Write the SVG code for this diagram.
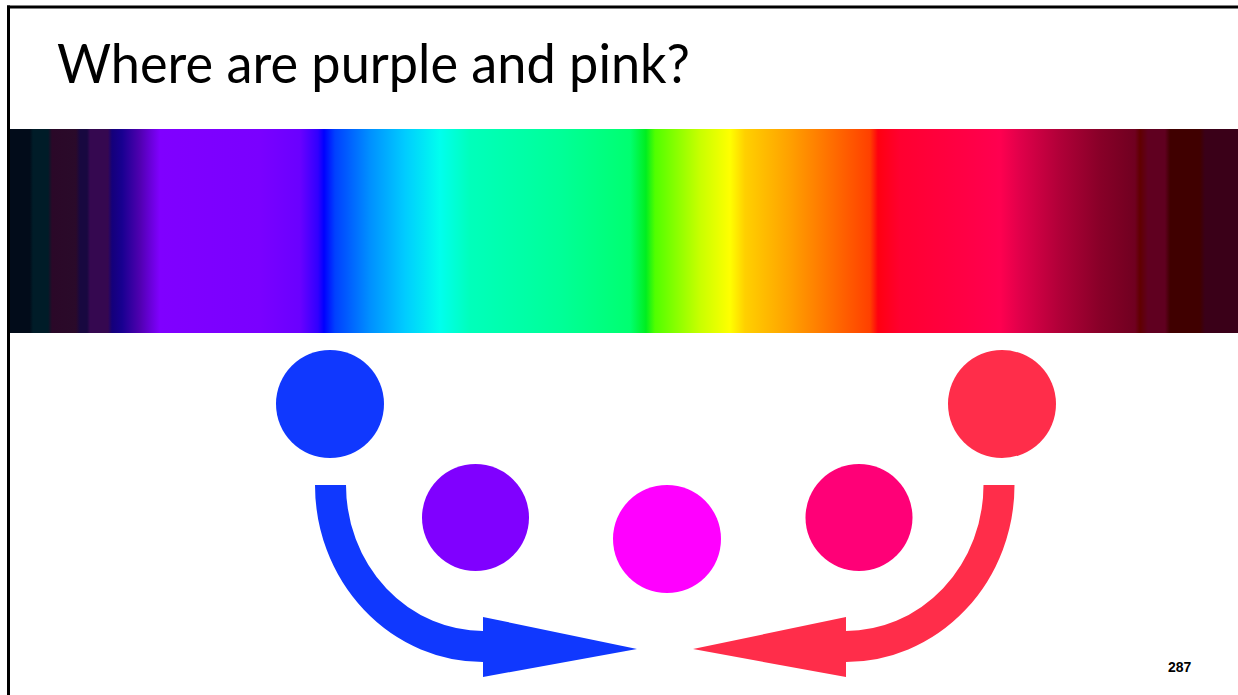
<svg xmlns="http://www.w3.org/2000/svg" width="1238" height="695" viewBox="0 0 1238 695">
<style>
.title{font-family:"Gill Sans","Lato","Liberation Sans",sans-serif;font-size:54px;fill:#000}
.page{font-family:"Liberation Sans",Arial,sans-serif;font-size:14px;font-weight:bold;fill:#000}
.blue{fill:#1038fe}
.red{fill:#ff2d4a}
.shaftB{fill:none;stroke:#1038fe;stroke-width:31}
.shaftR{fill:none;stroke:#ff2d4a;stroke-width:31}
</style>
<defs>
<linearGradient id="spec" gradientUnits="userSpaceOnUse" x1="0" y1="0" x2="1238" y2="0">
<stop offset="0.0081" stop-color="#020c1a"/>
<stop offset="0.0242" stop-color="#020c1a"/>
<stop offset="0.0267" stop-color="#001c28"/>
<stop offset="0.0388" stop-color="#001c28"/>
<stop offset="0.0420" stop-color="#2a0828"/>
<stop offset="0.0614" stop-color="#2a0a2a"/>
<stop offset="0.0646" stop-color="#180840"/>
<stop offset="0.0703" stop-color="#180840"/>
<stop offset="0.0727" stop-color="#350850"/>
<stop offset="0.0872" stop-color="#350850"/>
<stop offset="0.0905" stop-color="#14007a"/>
<stop offset="0.0985" stop-color="#180090"/>
<stop offset="0.1131" stop-color="#5000b0"/>
<stop offset="0.1292" stop-color="#8000ff"/>
<stop offset="0.2100" stop-color="#7a00ff"/>
<stop offset="0.2423" stop-color="#6a00ff"/>
<stop offset="0.2569" stop-color="#3000ff"/>
<stop offset="0.2617" stop-color="#0000ff"/>
<stop offset="0.2706" stop-color="#0040ff"/>
<stop offset="0.2989" stop-color="#0090ff"/>
<stop offset="0.3271" stop-color="#00ccff"/>
<stop offset="0.3554" stop-color="#00ffee"/>
<stop offset="0.3796" stop-color="#00ffbb"/>
<stop offset="0.4523" stop-color="#00ff98"/>
<stop offset="0.5089" stop-color="#00ff70"/>
<stop offset="0.5218" stop-color="#00ee20"/>
<stop offset="0.5291" stop-color="#50ff00"/>
<stop offset="0.5654" stop-color="#c8ff00"/>
<stop offset="0.5897" stop-color="#ffff00"/>
<stop offset="0.6018" stop-color="#ffd000"/>
<stop offset="0.6381" stop-color="#ffa000"/>
<stop offset="0.6704" stop-color="#ff7000"/>
<stop offset="0.7027" stop-color="#ff4000"/>
<stop offset="0.7092" stop-color="#ff0010"/>
<stop offset="0.7270" stop-color="#ff0030"/>
<stop offset="0.8078" stop-color="#ff0050"/>
<stop offset="0.8239" stop-color="#e0004a"/>
<stop offset="0.8562" stop-color="#b00038"/>
<stop offset="0.8885" stop-color="#880028"/>
<stop offset="0.9168" stop-color="#700020"/>
<stop offset="0.9208" stop-color="#600000"/>
<stop offset="0.9273" stop-color="#600020"/>
<stop offset="0.9410" stop-color="#600020"/>
<stop offset="0.9451" stop-color="#400000"/>
<stop offset="0.9693" stop-color="#400000"/>
<stop offset="0.9733" stop-color="#3a0018"/>
<stop offset="1" stop-color="#3a0018"/>
</linearGradient>
</defs>
<rect x="0" y="0" width="1238" height="695" fill="#fff"/>
<g id="frame">
<line x1="7" y1="7" x2="1238" y2="7" stroke="#000" stroke-width="3"/>
<line x1="8.5" y1="5.5" x2="8.5" y2="695" stroke="#000" stroke-width="3"/>
</g>
<g id="title">
<text class="title" x="57" y="83" textLength="633" lengthAdjust="spacingAndGlyphs">Where are purple and pink?</text>
</g>
<g id="spectrum">
<rect x="10" y="129" width="1228" height="204" fill="url(#spec)"/>
</g>
<g id="circle-blue"><circle class="blue" cx="330" cy="404" r="54"/></g>
<g id="circle-purple"><circle cx="475.5" cy="517.5" r="53.5" fill="#8000ff"/></g>
<g id="circle-magenta"><circle cx="667" cy="539" r="54" fill="#ff00ff"/></g>
<g id="circle-pink"><circle cx="859" cy="517.5" r="53.5" fill="#ff0077"/></g>
<g id="circle-red"><circle class="red" cx="1002" cy="404" r="54"/></g>
<g id="connectors">
<path class="shaftB" d="M330.5,485 A152.5,161.5 0 0 0 483,646.5 L490,646.5"/>
<polygon class="blue" points="483,617 637,649 483,677"/>
<path class="shaftR" d="M999,485 A153,161.5 0 0 1 846,646.5 L839,646.5"/>
<polygon class="red" points="846,617 693,649 846,677"/>
</g>
<g id="page-number">
<text class="page" x="1168" y="672">287</text>
</g>
</svg>
